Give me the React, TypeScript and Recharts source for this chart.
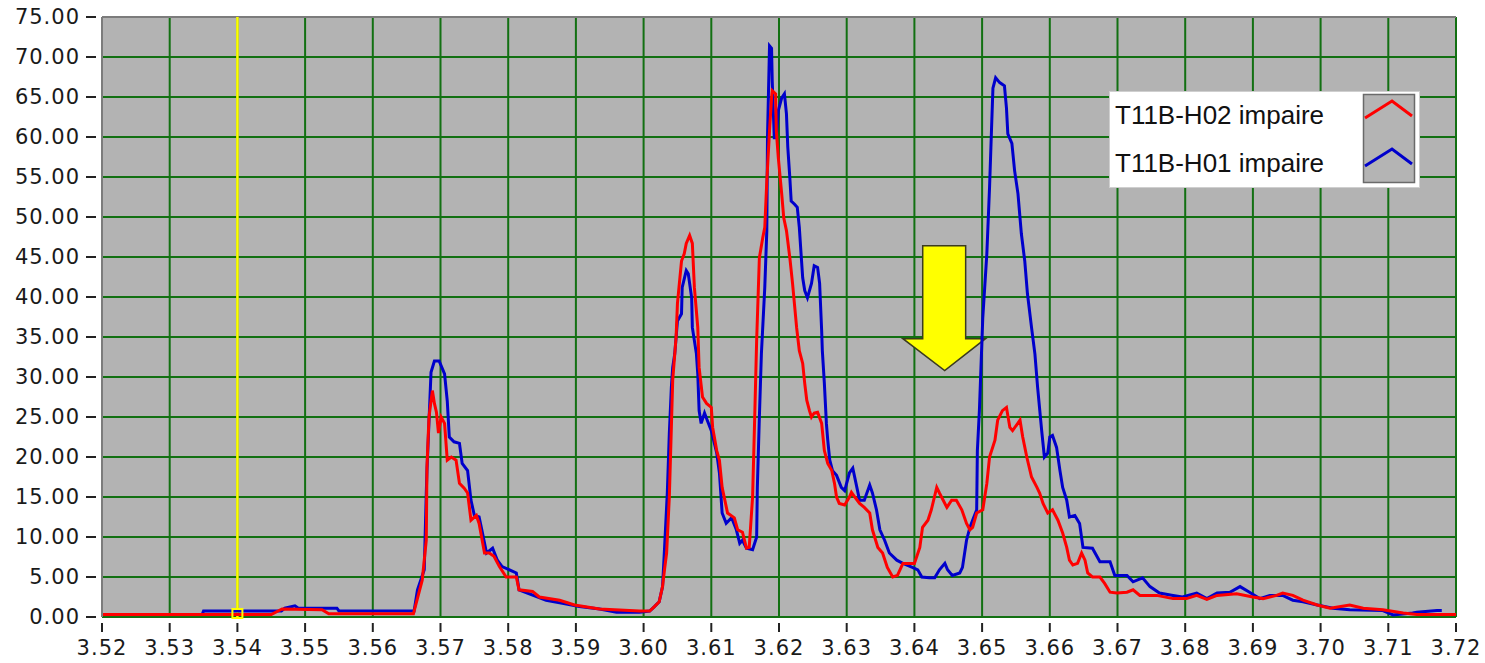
import React from 'react';
import { LineChart, Line, XAxis, YAxis, CartesianGrid, ReferenceLine, ReferenceDot, ReferenceArea, Legend } from 'recharts';

const xTicks = [3.52, 3.53, 3.54, 3.55, 3.56, 3.57, 3.58, 3.59, 3.6, 3.61, 3.62, 3.63, 3.64, 3.65, 3.66, 3.67, 3.68, 3.69, 3.7, 3.71, 3.72];
const yTicks = [0, 5, 10, 15, 20, 25, 30, 35, 40, 45, 50, 55, 60, 65, 70, 75];

const redName = 'T11B-H02 impaire';
const blueName = 'T11B-H01 impaire';

// [x, y]
const redPoints: [number, number][] = [
  [3.52, 0.3], [3.545, 0.3], [3.5466, 1.0], [3.5525, 0.9], [3.5535, 0.4], [3.566, 0.4], [3.5673, 4.6], [3.5679, 9.6],
  [3.568, 18.7], [3.5683, 25], [3.5688, 28.3], [3.5691, 26.7], [3.5694, 25.6], [3.5697, 23], [3.5701, 25], [3.5706, 24.2],
  [3.571, 19.6], [3.5716, 20], [3.5723, 19.6], [3.5728, 16.7], [3.5735, 16.1], [3.574, 15.5], [3.5745, 12.1], [3.5753, 12.7],
  [3.5757, 11.7], [3.5765, 8], [3.5772, 8], [3.5779, 7.6], [3.5787, 6.3], [3.5797, 5], [3.5812, 5], [3.5816, 3.4],
  [3.5836, 3.2], [3.5846, 2.5], [3.5876, 2.1], [3.5898, 1.5], [3.5935, 1.0], [3.5994, 0.75], [3.6009, 0.75], [3.6016, 1.3],
  [3.6023, 1.9], [3.6028, 3.8], [3.6031, 6], [3.6034, 8], [3.6038, 15], [3.6041, 23.7], [3.6043, 29.6], [3.6048, 35],
  [3.605, 39.2], [3.6056, 44.5], [3.606, 45.4], [3.6063, 46.7], [3.6068, 47.7], [3.6072, 46.7], [3.6075, 41.2], [3.608, 36.2],
  [3.6082, 31.2], [3.6087, 27.5], [3.6093, 26.7], [3.61, 26.2], [3.6102, 23.7], [3.6108, 20.8], [3.6112, 19.6], [3.6116, 16.2],
  [3.6124, 13], [3.6134, 12.4], [3.6139, 10.9], [3.6146, 10.6], [3.6152, 8.6], [3.6156, 8.7], [3.6161, 15], [3.6164, 24.6],
  [3.6167, 34.6], [3.6171, 44.9], [3.6176, 47.4], [3.6179, 48.7], [3.6182, 54.5], [3.6186, 60.8], [3.6189, 64.9], [3.619, 65.8],
  [3.6195, 65.4], [3.6196, 60.8], [3.6199, 57.4], [3.6204, 52.9], [3.6207, 49.9], [3.6211, 48.3], [3.6216, 44.9], [3.622, 41.7],
  [3.6226, 36.2], [3.623, 33.3], [3.6235, 31.7], [3.6238, 29.2], [3.6241, 27.1], [3.6245, 25.8], [3.6248, 25], [3.6252, 25.5],
  [3.6257, 25.6], [3.6263, 24.2], [3.6267, 20.8], [3.6272, 19.2], [3.6278, 18.3], [3.6282, 16.7], [3.6285, 15], [3.6289, 14.2],
  [3.6297, 14], [3.6304, 15], [3.6307, 15.6], [3.6312, 15], [3.6319, 14.2], [3.6326, 13.7], [3.6334, 13], [3.6338, 10.9],
  [3.6346, 8.7], [3.6353, 8], [3.636, 6.2], [3.6368, 5], [3.6375, 5.2], [3.6383, 6.7], [3.639, 6.7], [3.64, 6.7],
  [3.6408, 8.7], [3.6412, 11.2], [3.642, 12.1], [3.6425, 13.4], [3.6433, 16.2], [3.6437, 15.5], [3.6448, 13.7], [3.6455, 14.6],
  [3.6462, 14.6], [3.647, 13.4], [3.6477, 11.7], [3.6482, 10.9], [3.6486, 11.2], [3.6492, 13], [3.6501, 13.4], [3.6507, 16.7],
  [3.6511, 20], [3.6519, 22.1], [3.6523, 24.6], [3.653, 25.8], [3.6536, 26.2], [3.6541, 23.7], [3.6545, 23.3], [3.6556, 24.6],
  [3.656, 22.5], [3.6566, 20], [3.6573, 17.5], [3.6581, 16.2], [3.6585, 15.5], [3.659, 14.2], [3.6597, 13], [3.6604, 13.4],
  [3.6612, 12.1], [3.6619, 10.5], [3.6625, 8.7], [3.6629, 7.1], [3.6634, 6.5], [3.6641, 6.7], [3.6647, 8], [3.6652, 7.1],
  [3.6656, 5.5], [3.6663, 5], [3.6674, 5], [3.6681, 4.2], [3.6689, 3.1], [3.6699, 3], [3.6714, 3.1], [3.6723, 3.4],
  [3.6733, 2.7], [3.6758, 2.7], [3.6782, 2.3], [3.6802, 2.3], [3.6817, 2.7], [3.6832, 2.2], [3.6847, 2.7], [3.6876, 2.9],
  [3.69, 2.5], [3.6915, 2.3], [3.6935, 2.7], [3.6944, 3], [3.6959, 2.7], [3.6974, 2.1], [3.6995, 1.5], [3.7014, 1.1],
  [3.7043, 1.5], [3.7063, 1.1], [3.7092, 0.9], [3.7122, 0.5], [3.7142, 0.3], [3.72, 0.3],
];

const bluePoints: [number, number][] = [
  [3.52, 0.3], [3.5348, 0.3], [3.535, 0.75], [3.5465, 0.75], [3.547, 1.1], [3.5485, 1.4], [3.549, 1.1], [3.5547, 1.1],
  [3.555, 0.75], [3.5661, 0.75], [3.5666, 3.4], [3.5676, 5.9], [3.5679, 15.5], [3.568, 18.3], [3.5686, 30.6], [3.5691, 32],
  [3.5698, 32], [3.5706, 30.4], [3.571, 27], [3.5713, 22.5], [3.572, 21.9], [3.5728, 21.7], [3.5732, 19.2], [3.574, 18.3],
  [3.5745, 14.6], [3.575, 12.7], [3.5757, 12.5], [3.5762, 10.5], [3.5768, 8], [3.5777, 8.6], [3.5784, 7.1], [3.5791, 6.3],
  [3.5812, 5.5], [3.5816, 3.4], [3.5856, 2.1], [3.588, 1.7], [3.5905, 1.3], [3.5935, 1.0], [3.596, 0.6], [3.5994, 0.6],
  [3.6009, 0.75], [3.6016, 1.3], [3.6023, 1.9], [3.6028, 3.8], [3.6031, 8.7], [3.6035, 15.5], [3.6038, 23], [3.6041, 28.7],
  [3.6043, 31.2], [3.6046, 32.9], [3.605, 37], [3.6056, 37.9], [3.6057, 41.2], [3.6063, 43.3], [3.6066, 42.9], [3.6071, 39.9],
  [3.6072, 36.2], [3.6078, 32.9], [3.608, 30.4], [3.6082, 25.8], [3.6085, 24.2], [3.609, 25.5], [3.6094, 24.6], [3.61, 23.3],
  [3.6108, 20.5], [3.6112, 18], [3.6116, 13], [3.6122, 11.7], [3.613, 12.4], [3.6137, 10.9], [3.6142, 9.2], [3.6146, 9.6],
  [3.6152, 8.6], [3.6161, 8.4], [3.6167, 10], [3.6168, 16.2], [3.6171, 25], [3.6174, 32.9], [3.6179, 41.2], [3.6182, 48.3],
  [3.6183, 60], [3.6186, 71.4], [3.6189, 71.1], [3.619, 67], [3.6193, 59.9], [3.6196, 59.9], [3.6199, 63.3], [3.6204, 64.9],
  [3.6208, 65.4], [3.6211, 62.9], [3.6213, 58.7], [3.6216, 54.9], [3.6218, 52], [3.6223, 51.6], [3.6227, 51.2], [3.623, 48.7],
  [3.6233, 44.9], [3.6235, 42.4], [3.6238, 40.8], [3.6242, 39.9], [3.6248, 41.7], [3.6252, 43.9], [3.6257, 43.7], [3.626, 41.7],
  [3.6263, 35.8], [3.6264, 33.3], [3.6267, 29.2], [3.627, 24.2], [3.6272, 22.1], [3.6275, 19.6], [3.6279, 18.3], [3.6285, 17.7],
  [3.6292, 16.2], [3.6297, 15.8], [3.6304, 18], [3.6309, 18.6], [3.6315, 16.2], [3.6319, 14.6], [3.6326, 14.6], [3.6334, 16.5],
  [3.6338, 15.5], [3.6344, 13.4], [3.6349, 10.9], [3.6356, 9.6], [3.6363, 8], [3.6374, 7.1], [3.6383, 6.7], [3.6397, 6.2],
  [3.6405, 5.9], [3.6411, 5], [3.6422, 4.9], [3.643, 4.9], [3.6437, 5.9], [3.6445, 6.7], [3.6449, 5.9], [3.6456, 5.2],
  [3.6467, 5.5], [3.6471, 6.2], [3.6477, 9.6], [3.6482, 11.2], [3.6486, 12.1], [3.6492, 13.4], [3.6493, 20.8], [3.6496, 25.8],
  [3.6501, 37.4], [3.6507, 45.4], [3.6511, 53.7], [3.6514, 61.2], [3.6516, 66.1], [3.652, 67.4], [3.6526, 66.8], [3.6533, 66.4],
  [3.6536, 63.6], [3.6538, 60.4], [3.6544, 59.2], [3.6548, 55.8], [3.6553, 52.9], [3.6558, 47.9], [3.6563, 44.5], [3.6567, 40.4],
  [3.6573, 36.2], [3.6578, 32.9], [3.6582, 28.7], [3.6588, 23.3], [3.6592, 20], [3.6597, 20.5], [3.66, 22.5], [3.6604, 22.7],
  [3.661, 21.2], [3.6615, 18.3], [3.6619, 16.2], [3.6625, 14.6], [3.6629, 12.5], [3.6637, 12.7], [3.6644, 11.7], [3.6649, 8.7],
  [3.6663, 8.6], [3.6674, 6.9], [3.6689, 6.9], [3.6696, 5.2], [3.6714, 5.2], [3.6723, 4.4], [3.6737, 4.9], [3.6748, 3.8],
  [3.6762, 3], [3.6782, 2.7], [3.6796, 2.5], [3.6817, 3], [3.6832, 2.3], [3.6847, 3], [3.6866, 3.1], [3.6881, 3.8],
  [3.6895, 3.1], [3.691, 2.3], [3.6925, 2.7], [3.6944, 2.7], [3.6959, 2.1], [3.6974, 1.9], [3.6995, 1.5], [3.7018, 1.1],
  [3.7043, 0.9], [3.7092, 0.8], [3.7107, 0.25], [3.7136, 0.5], [3.7142, 0.6], [3.7172, 0.8], [3.7179, 0.8],
];

const cursorX = 3.54;

const redData = redPoints.map(([x, y]) => ({ x, y }));
const blueData = bluePoints.map(([x, y]) => ({ x, y }));

const legendItems = [
  { name: redName, color: '#ff0000' },
  { name: blueName, color: '#0000cc' },
];

const tickFont = { fontFamily: '"DejaVu Sans", Verdana, sans-serif', fontSize: 21, letterSpacing: 1, fill: '#1a1a1a' };

const YTick = (props: any) => {
  const { x, y, payload } = props;
  return (
    <g>
      <line x1={x - 16} x2={x - 6} y1={y} y2={y} stroke="#222" strokeWidth={2} />
      <text x={x - 22} y={y} textAnchor="end" dominantBaseline="central" {...tickFont}>
        {Number(payload.value).toFixed(2)}
      </text>
    </g>
  );
};

const XTick = (props: any) => {
  const { x, y, payload } = props;
  return (
    <g>
      <line x1={x} x2={x} y1={y + 6} y2={y + 15} stroke="#222" strokeWidth={2} />
      <text x={x} y={y + 38} textAnchor="middle" {...tickFont}>
        {Number(payload.value).toFixed(2)}
      </text>
    </g>
  );
};

const Arrow = (props: any) => {
  const { x, y, width: w, height: h } = props;
  const pts = [
    [x + w * 0.24, y],
    [x + w * 0.76, y],
    [x + w * 0.76, y + h * 0.744],
    [x + w, y + h * 0.744],
    [x + w * 0.506, y + h],
    [x, y + h * 0.744],
    [x + w * 0.24, y + h * 0.744],
  ]
    .map((p) => p.join(','))
    .join(' ');
  return <polygon points={pts} fill="#ffff00" stroke="#3b3b20" strokeWidth={1.5} strokeLinejoin="miter" />;
};

const CursorMark = (props: any) => {
  const { cx, cy } = props;
  return <rect x={cx - 5} y={cy - 8} width={10} height={9} fill="none" stroke="#ffff00" strokeWidth={2} />;
};

const LegendBox = () => (
  <svg width={311} height={97} style={{ display: 'block' }}>
    <rect x={0.5} y={0.5} width={310} height={96} fill="#ffffff" stroke="#cfcfcf" />
    {legendItems.map((item, i) => (
      <text key={item.name} x={6} y={33 + i * 48} fontFamily='"Liberation Sans", Arial, sans-serif' fontSize={26} fill="#111">
        {item.name}
      </text>
    ))}
    <rect x={254.5} y={3.5} width={51} height={88} fill="#b4b4b4" stroke="#6a6a6a" strokeWidth={1.5} />
    {legendItems.map((item, i) => (
      <polyline
        key={item.color}
        points={`256,${27 + i * 48} 283,${10 + i * 48} 303,${25 + i * 48}`}
        fill="none"
        stroke={item.color}
        strokeWidth={3}
      />
    ))}
  </svg>
);

export default function App() {
  return (
    <div style={{ position: 'absolute', left: 0, top: 0, background: '#fff' }}>
      <LineChart width={1485} height={663} margin={{ top: 17, right: 29, bottom: 6, left: 0 }}>
        <CartesianGrid fill="#b3b3b3" stroke="#127012" strokeWidth={2} strokeOpacity={1} />
        <XAxis
          type="number"
          dataKey="x"
          domain={[3.52, 3.72]}
          ticks={xTicks}
          interval={0}
          height={40}
          axisLine={false}
          tickLine={false}
          tickSize={0}
          tickMargin={0}
          tick={<XTick />}
          allowDataOverflow
        />
        <YAxis
          type="number"
          domain={[0, 75]}
          ticks={yTicks}
          interval={0}
          width={102}
          axisLine={{ stroke: '#7c7c7c', strokeWidth: 2 }}
          tickLine={false}
          tickSize={0}
          tickMargin={0}
          tick={<YTick />}
          allowDataOverflow
        />
        <ReferenceLine y={75} stroke="#7c7c7c" strokeWidth={2} />
        <ReferenceLine x={cursorX} stroke="#ffff00" strokeWidth={2.5} />
        <Line
          data={blueData}
          dataKey="y"
          name={blueName}
          type="linear"
          stroke="#0000cc"
          strokeWidth={3}
          dot={false}
          isAnimationActive={false}
        />
        <Line
          data={redData}
          dataKey="y"
          name={redName}
          type="linear"
          stroke="#ff0000"
          strokeWidth={3}
          dot={false}
          isAnimationActive={false}
        />
        <ReferenceDot x={cursorX} y={0} shape={<CursorMark />} />
        <ReferenceArea x1={3.6383} x2={3.6505} y1={30.8} y2={46.4} shape={<Arrow />} />
        <Legend
          layout="vertical"
          align="center"
          verticalAlign="middle"
          wrapperStyle={{ left: 1109, top: 91, width: 311 }}
          content={<LegendBox />}
        />
      </LineChart>
    </div>
  );
}
